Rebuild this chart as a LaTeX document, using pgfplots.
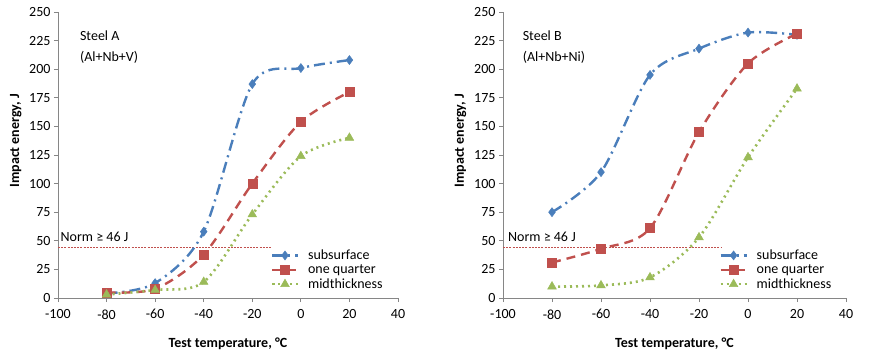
\documentclass[border=0pt]{standalone}
\usepackage{fontspec}
\setmainfont{Carlito}
\usepackage{pgfplots}
\pgfplotsset{compat=1.18}
\definecolor{cblue}{HTML}{4A7EBB}
\definecolor{cred}{HTML}{C0504D}
\definecolor{cgreen}{HTML}{9BBB59}
\definecolor{axgray}{HTML}{868686}
\pgfplotsset{
  myax/.style={
    scale only axis, height=286pt,
    xmin=-100, xmax=40, ymin=0, ymax=250,
    xtick={-100,-80,...,40}, ytick={0,25,...,250},
    axis x line*=bottom, axis y line*=left,
    axis line style={axgray,-, line width=0.8pt},
    tick align=outside, major tick length=4pt,
    tick style={axgray, line width=0.8pt},
    minor tick num=0,
    ticklabel style={font=\fontsize{14}{16}\selectfont},
    xticklabel style={yshift=-4pt},
    /pgf/number format/assume math mode=true,
    xlabel={\textbf{Test temperature, °C}},
    ylabel={\textbf{Impact energy, J}},
    label style={font=\fontsize{14}{16}\selectfont},
    x label style={at={(axis description cs:0.5,-0.16)}, anchor=center},
    y label style={at={(axis description cs:-0.124,0.55)}, anchor=center},
    clip=false,
    legend cell align=left,
    legend style={draw=none, fill=none, inner sep=0pt,
      font=\fontsize{14}{15}\selectfont, row sep=2pt,
      nodes={inner sep=0.8pt},
      /tikz/every odd column/.append style={column sep=8pt}},
    legend image code/.code={\draw[mark repeat=2,mark phase=2,##1] plot coordinates {(0pt,0pt) (13pt,0pt) (26pt,0pt)};},
  },
  ssurf/.style={cblue, line width=2.4pt, dash pattern=on 11pt off 5pt on 2pt off 5pt, smooth, tension=0.5,
     mark=diamond*, mark size=4.5pt, mark options={solid, fill=cblue, draw=cblue, line width=0.5pt}},
  quart/.style={cred, line width=2.4pt, dash pattern=on 9pt off 6pt, smooth, tension=0.5,
     mark=square*, mark size=4.5pt, mark options={solid, fill=cred, draw=cred, line width=0.5pt}},
  midt/.style={cgreen, line width=2.6pt, dash pattern=on 2pt off 4pt, smooth, tension=0.5,
     mark=triangle*, mark size=5pt, mark options={solid, fill=cgreen, draw=cgreen, line width=0.5pt}},
  normline/.style={forget plot, color=cred, line width=1pt, dash pattern=on 2pt off 1.2pt, mark=none},
}
\begin{document}
\begin{tikzpicture}
\path (0pt,0pt) rectangle (870pt,362pt);
% Steel A
\begin{axis}[myax, width=340pt, at={(58pt,64pt)}, anchor=south west,
  legend style={at={(0.625,0.172)}, anchor=north west}]
\addplot[normline] coordinates {(-100,44) (-12,44)};
\addplot[ssurf] coordinates {(-80,4) (-60,13) (-40,58) (-20,187) (0,201) (20,208)};
\addlegendentry{subsurface}
\addplot[quart] coordinates {(-80,5) (-60,8) (-40,38) (-20,100) (0,154) (20,180)};
\addlegendentry{one quarter}
\addplot[midt] coordinates {(-80,3) (-60,7) (-40,14) (-20,73) (0,124) (20,140)};
\addlegendentry{midthickness}
\node[anchor=base west, font=\fontsize{14}{16}\selectfont, inner sep=0pt] at (axis cs:-99,49) {Norm ≥ 46 J};
\node[anchor=base west, font=\fontsize{14}{16}\selectfont, inner sep=0pt] at (axis cs:-91,225) {Steel A};
\node[anchor=base west, font=\fontsize{14}{16}\selectfont, inner sep=0pt] at (axis cs:-91,207) {(Al+Nb+V)};
\end{axis}
% Steel B
\begin{axis}[myax, width=343pt, at={(503pt,64pt)}, anchor=south west,
  legend style={at={(0.63,0.172)}, anchor=north west}]
\addplot[normline] coordinates {(-100,44) (-11,44)};
\addplot[ssurf] coordinates {(-80,75) (-60,110) (-40,195) (-20,218) (0,232) (20,230)};
\addlegendentry{subsurface}
\addplot[quart] coordinates {(-80,31) (-60,43) (-40,61) (-20,145) (0,205) (20,231)};
\addlegendentry{one quarter}
\addplot[midt] coordinates {(-80,10) (-60,11) (-40,18) (-20,53) (0,123) (20,183)};
\addlegendentry{midthickness}
\node[anchor=base west, font=\fontsize{14}{16}\selectfont, inner sep=0pt] at (axis cs:-98,49) {Norm ≥ 46 J};
\node[anchor=base west, font=\fontsize{14}{16}\selectfont, inner sep=0pt] at (axis cs:-92,225) {Steel B};
\node[anchor=base west, font=\fontsize{14}{16}\selectfont, inner sep=0pt] at (axis cs:-92,207) {(Al+Nb+Ni)};
\end{axis}
\end{tikzpicture}
\end{document}
